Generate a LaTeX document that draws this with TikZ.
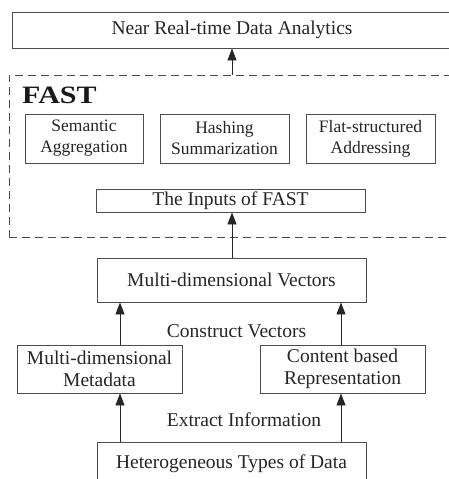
\documentclass[tikz,border=0pt]{standalone}
\usepackage{fontspec}
\setmainfont{Liberation Serif}
\usetikzlibrary{arrows.meta}
\begin{document}
\begin{tikzpicture}[x=1pt,y=-1pt,
  box/.style={draw=black!70,line width=0.9pt,fill=white,inner sep=0pt,align=center,font=\fontsize{19.5}{22}\selectfont,text=black!85},
  smallbox/.style={box,font=\fontsize{17.5}{21}\selectfont},
  lbl/.style={inner sep=0pt,font=\fontsize{19.5}{22}\selectfont,text=black!85},
  arr/.style={draw=black!85,line width=0.9pt,-{Triangle[length=12pt,width=9pt]}}]
\useasboundingbox (0,0) rectangle (449,479);
\clip (0,0) rectangle (449,479);
\node[box,minimum width=440pt,minimum height=36pt] (top) at (232,30) {Near Real-time Data Analytics};
\node[draw=black!70,line width=0.9pt,dash pattern=on 8pt off 5pt,inner sep=0pt,minimum width=446pt,minimum height=162pt] (fast) at (232,156) {};
\node[inner sep=0pt,anchor=west,font=\fontsize{25}{28}\selectfont\bfseries,text=black!90] (fastlbl) at (22,95) {\scalebox{1.2}[1]{FAST}};
\node[smallbox,minimum width=118pt,minimum height=49pt] (sem) at (84,138.5) {Semantic\\Aggregation};
\node[smallbox,minimum width=129pt,minimum height=49pt] (hash) at (224.5,138.5) {Hashing\\Summarization};
\node[smallbox,minimum width=129pt,minimum height=49pt] (flat) at (370.5,138.5) {Flat-structured\\Addressing};
\node[box,minimum width=269pt,minimum height=23pt] (inp) at (230.5,200.5) {The Inputs of FAST};
\node[box,minimum width=269pt,minimum height=44pt] (vec) at (231.5,280) {Multi-dimensional Vectors};
\node[box,minimum width=165pt,minimum height=48pt] (meta) at (99.5,369) {Multi-dimensional\\Metadata};
\node[box,minimum width=165pt,minimum height=48pt] (cont) at (342.5,369) {Content based\\Representation};
\node[box,minimum width=269pt,minimum height=44pt] (het) at (231.5,464) {Heterogeneous Types of Data};
\node[lbl] (cv) at (236.5,331) {Construct Vectors};
\node[lbl] (ei) at (244,420) {Extract Information};
\draw[arr] (fast.north -| top.south) -- (top.south);
\draw[arr] (vec.north -| 232,0) -- (inp.south -| 232,0);
\draw[arr] (meta.north -| 120,0) -- (vec.south -| 120,0);
\draw[arr] (cont.north -| 341,0) -- (vec.south -| 341,0);
\draw[arr] (het.north -| 120,0) -- (meta.south -| 120,0);
\draw[arr] (het.north -| 341,0) -- (cont.south -| 341,0);
\end{tikzpicture}
\end{document}
